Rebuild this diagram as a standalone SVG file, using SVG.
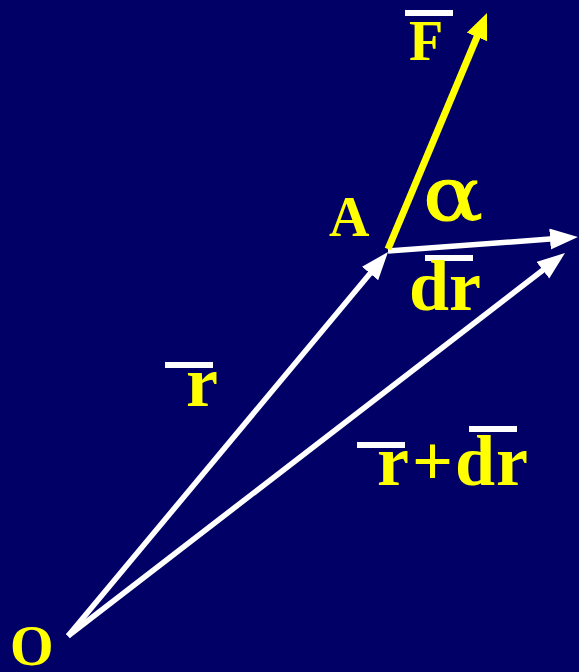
<svg xmlns="http://www.w3.org/2000/svg" width="579" height="672" viewBox="0 0 579 672">
<style>
.lbl{font-family:"Liberation Serif","Times New Roman",serif;font-weight:bold;fill:#FFFF00}
.vec{font-size:72px}
.pt{font-size:56px}
.greek{font-family:"DejaVu Serif",serif;font-weight:normal;font-size:74px;stroke:#FFFF00;stroke-width:1}
.bar{fill:#FFFFFF}
.wl{stroke:#FFFFFF;stroke-width:5.5;fill:none}
.yl{stroke:#FFFF00;stroke-width:7;fill:none}
</style>
<defs>
<marker id="wh" markerUnits="userSpaceOnUse" markerWidth="30" markerHeight="24" refX="13" refY="10.5" orient="auto">
<path d="M0,0 L28,10.5 L0,21 Z" fill="#FFFFFF"/>
</marker>
<marker id="yh" markerUnits="userSpaceOnUse" markerWidth="28" markerHeight="24" refX="11" refY="11" orient="auto">
<path d="M0,0 L26,11 L0,22 Z" fill="#FFFF00"/>
</marker>
</defs>
<rect x="0" y="0" width="579" height="672" fill="#000066"/>
<g id="connectors">
<line id="vec-r" class="wl" x1="68" y1="636" x2="378.4" y2="263.5" marker-end="url(#wh)"/>
<line id="vec-rdr" class="wl" x1="68" y1="636" x2="553.1" y2="262.2" marker-end="url(#wh)"/>
<line id="vec-dr" class="wl" x1="388" y1="251" x2="563" y2="238.1" marker-end="url(#wh)"/>
<line id="vec-F" class="yl" x1="388" y1="249" x2="481.2" y2="26.8" marker-end="url(#yh)"/>
</g>
<g id="node-O"><text class="lbl pt" x="10" y="665">O</text></g>
<g id="node-A"><text class="lbl pt" x="329" y="236">A</text></g>
<g id="label-F"><rect class="bar" x="405" y="10" width="48" height="6"/><text class="lbl pt" x="409" y="60">F</text></g>
<g id="label-alpha"><text class="lbl greek" transform="translate(423,220) scale(1.2,1)" x="0" y="0">α</text></g>
<g id="label-dr"><rect class="bar" x="425" y="255" width="48" height="6"/><text class="lbl vec" x="409" y="310">dr</text></g>
<g id="label-r"><rect class="bar" x="165" y="362" width="48" height="6"/><text class="lbl vec" x="186" y="406">r</text></g>
<g id="label-rdr"><rect class="bar" x="357" y="442" width="48" height="6"/><rect class="bar" x="469" y="426" width="48" height="6"/><text class="lbl vec" y="485"><tspan x="377">r</tspan><tspan x="412">+</tspan><tspan x="455">d</tspan><tspan x="496">r</tspan></text></g>
</svg>
